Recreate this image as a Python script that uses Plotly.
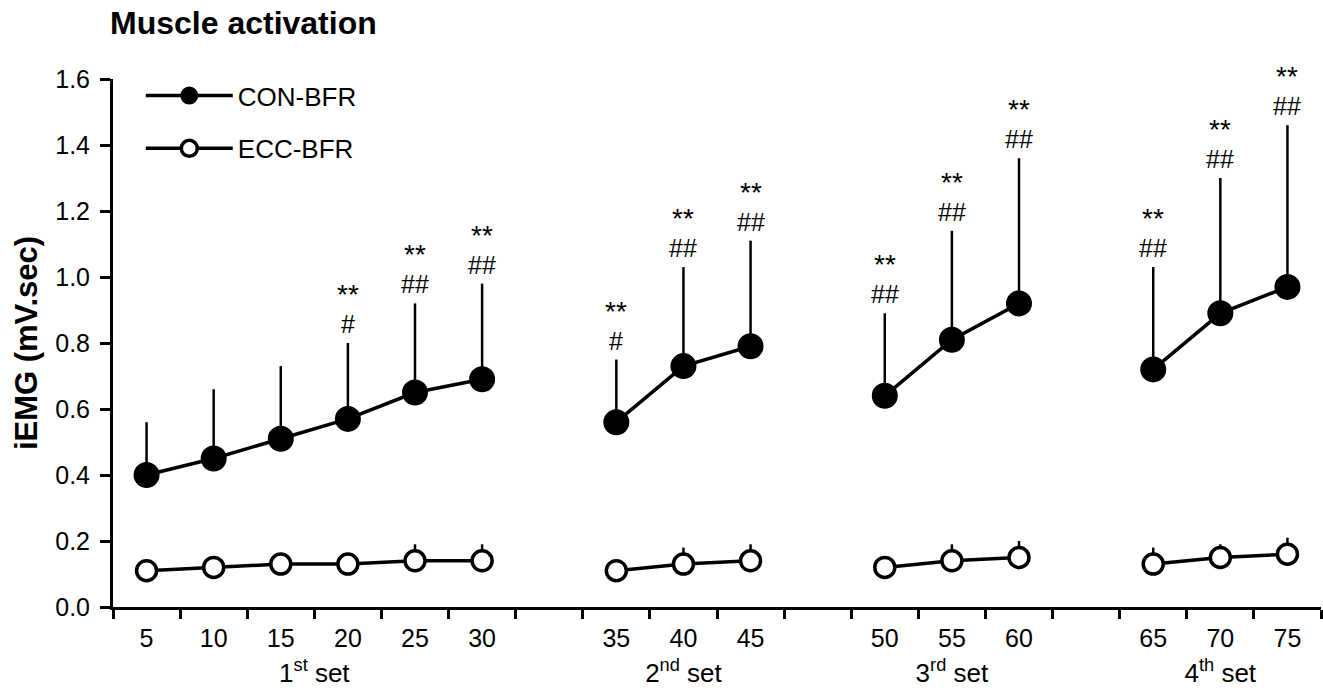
import plotly.graph_objects as go

# ---------------- data ----------------
reps = [5, 10, 15, 20, 25, 30, 35, 40, 45, 50, 55, 60, 65, 70, 75]
rep_set = [1, 1, 1, 1, 1, 1, 2, 2, 2, 3, 3, 3, 4, 4, 4]
set_labels = ["1<sup>st</sup> set", "2<sup>nd</sup> set", "3<sup>rd</sup> set", "4<sup>th</sup> set"]

con_mean = [0.40, 0.45, 0.51, 0.57, 0.65, 0.69, 0.56, 0.73, 0.79, 0.64, 0.81, 0.92, 0.72, 0.89, 0.97]
con_sd = [0.16, 0.21, 0.22, 0.23, 0.27, 0.29, 0.19, 0.30, 0.32, 0.25, 0.33, 0.44, 0.31, 0.41, 0.49]
ecc_mean = [0.11, 0.12, 0.13, 0.13, 0.14, 0.14, 0.11, 0.13, 0.14, 0.12, 0.14, 0.15, 0.13, 0.15, 0.16]
ecc_sd = [0.03, 0.03, 0.03, 0.03, 0.05, 0.05, 0.03, 0.05, 0.05, 0.03, 0.05, 0.05, 0.05, 0.04, 0.05]
sig_star = ["", "", "", "**", "**", "**", "**", "**", "**", "**", "**", "**", "**", "**", "**"]
sig_hash = ["", "", "", "#", "##", "##", "#", "##", "##", "##", "##", "##", "##", "##", "##"]

y_ticks = [0.0, 0.2, 0.4, 0.6, 0.8, 1.0, 1.2, 1.4, 1.6]

# ---------------- layout helpers ----------------
# slot index: one empty slot between consecutive sets
slots = [i + (s - 1) for i, s in enumerate(rep_set)]
n_slots = slots[-1] + 1
boundaries = [b - 0.5 for b in range(n_slots + 1)]
set_centres = []
for s in sorted(set(rep_set)):
    xs = [sl for sl, ss in zip(slots, rep_set) if ss == s]
    set_centres.append((xs[0] + xs[-1]) / 2)


def with_gaps(values):
    out_x, out_y = [], []
    prev = None
    for sl, s, v in zip(slots, rep_set, values):
        if prev is not None and s != prev:
            out_x.append(None)
            out_y.append(None)
        out_x.append(sl)
        out_y.append(v)
        prev = s
    return out_x, out_y


FONT = "Liberation Sans, Arial, Helvetica, sans-serif"
fig = go.Figure()

cx, cy = with_gaps(con_mean)
_, csd = with_gaps(con_sd)
ex, ey = with_gaps(ecc_mean)
_, esd = with_gaps(ecc_sd)

# CON-BFR upward SD bars (drawn on the set-label axis)
fig.add_trace(go.Scatter(
    x=cx, y=cy, mode="markers", xaxis="x3", showlegend=False, hoverinfo="skip",
    marker=dict(size=1, color="rgba(0,0,0,0)"),
    error_y=dict(type="data", array=csd, symmetric=False, arrayminus=[0] * len(csd),
                 color="black", thickness=2.5, width=0),
))
fig.add_trace(go.Scatter(
    x=cx, y=cy, mode="lines+markers", name="CON-BFR", xaxis="x",
    line=dict(color="black", width=3.5),
    marker=dict(symbol="circle", size=24, color="black", line=dict(color="black", width=2)),
    legendgroup="a",
))
fig.add_trace(go.Scatter(
    x=ex, y=ey, mode="lines+markers", name="ECC-BFR", xaxis="x2",
    line=dict(color="black", width=3.5),
    marker=dict(symbol="circle", size=20, color="white", line=dict(color="black", width=3.5)),
    error_y=dict(type="data", array=esd, symmetric=False, arrayminus=[0] * len(esd),
                 color="black", thickness=2.5, width=0),
    legendgroup="b",
))

# significance marks above CON-BFR error bars
for sl, m, sd, st, hs in zip(slots, con_mean, con_sd, sig_star, sig_hash):
    if not st:
        continue
    fig.add_annotation(
        x=sl, y=m + sd, xref="x", yref="y",
        text=f"<span style='font-size:28px'>{st}</span><br><span style='font-size:25px'>{hs}</span>",
        showarrow=False, yanchor="bottom", yshift=3,
        font=dict(family=FONT, size=22, color="black"),
    )

axis_common = dict(range=[-0.5, n_slots - 0.5], automargin=False, fixedrange=True)

fig.update_layout(
    width=1323, height=690,
    margin=dict(l=113, r=2, t=79, b=83, autoexpand=False),
    paper_bgcolor="white", plot_bgcolor="white",
    font=dict(family=FONT, size=25, color="black"),
    title=dict(text="<b>Muscle activation</b>", x=110 / 1323, xref="container", xanchor="left",
               y=1 - 23 / 690, yref="container", yanchor="middle",
               font=dict(family=FONT, size=32, color="black")),
    showlegend=True,
    legend=dict(x=0.023, y=1.013, xanchor="left", yanchor="top", traceorder="grouped",
                tracegroupgap=16, font=dict(family=FONT, size=26, color="black"),
                itemwidth=87, bgcolor="rgba(0,0,0,0)"),
    xaxis=dict(**axis_common, tickmode="array", tickvals=boundaries, showticklabels=False,
               ticks="outside", ticklen=9, tickwidth=2.5, tickcolor="black",
               showline=True, linewidth=3, linecolor="black", showgrid=False, zeroline=False),
    xaxis2=dict(**axis_common, overlaying="x", anchor="y", side="bottom", matches="x",
                tickmode="array", tickvals=slots, ticktext=[str(r) for r in reps],
                ticks="", showline=False, showgrid=False, zeroline=False,
                ticklabelstandoff=14, tickfont=dict(family=FONT, size=25, color="black")),
    xaxis3=dict(**axis_common, overlaying="x", anchor="y", side="bottom", matches="x",
                tickmode="array", tickvals=set_centres, ticktext=set_labels,
                ticks="", showline=False, showgrid=False, zeroline=False,
                ticklabelstandoff=48, tickfont=dict(family=FONT, size=26, color="black")),
    yaxis=dict(range=[0, 1.6], tickmode="array", tickvals=y_ticks, automargin=False, fixedrange=True,
               ticktext=[f"{v:.1f}" for v in y_ticks], ticklabelstandoff=5,
               ticks="outside", ticklen=10, tickwidth=2.5, tickcolor="black",
               showline=True, linewidth=3, linecolor="black", showgrid=False, zeroline=False,
               tickfont=dict(family=FONT, size=25, color="black"),
               title=dict(text="<b>iEMG (mV.sec)</b>", standoff=9,
                          font=dict(family=FONT, size=31, color="black"))),
)

fig.write_html("out.html", config={"displayModeBar": False},
               post_script="document.body.style.margin='0px';")
